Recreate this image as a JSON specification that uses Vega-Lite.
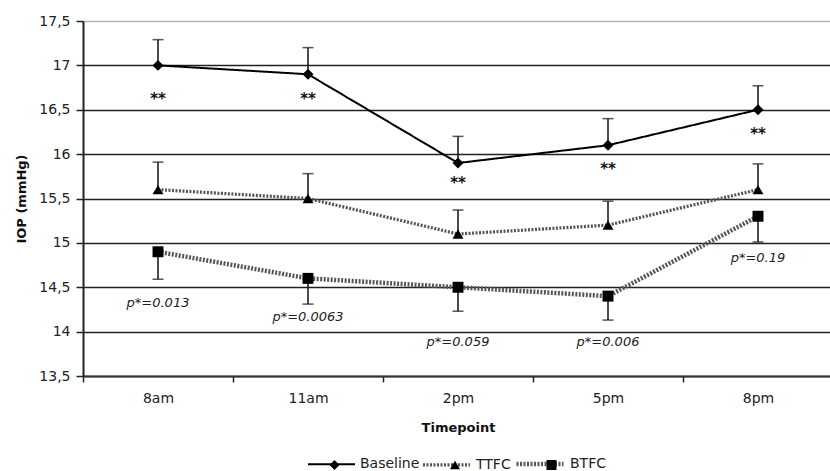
{
  "$schema": "https://vega.github.io/schema/vega-lite/v6.json",
  "width": 750,
  "height": 355,
  "autosize": {"type": "none"},
  "padding": {"left": 83, "top": 21, "right": 0, "bottom": 95},
  "background": "white",
  "config": {
    "font": "DejaVu Sans",
    "view": {"stroke": null},
    "axis": {"labelFont": "DejaVu Sans", "titleFont": "DejaVu Sans", "labelColor": "#222", "titleColor": "#111"},
    "legend": {"padding": 0, "labelFont": "DejaVu Sans"}
  },
  "datasets": {
    "series": [
      {"series": "Baseline", "time": "8am", "iop": 17.0, "bar": 17.29},
      {"series": "Baseline", "time": "11am", "iop": 16.9, "bar": 17.2},
      {"series": "Baseline", "time": "2pm", "iop": 15.9, "bar": 16.2},
      {"series": "Baseline", "time": "5pm", "iop": 16.1, "bar": 16.4},
      {"series": "Baseline", "time": "8pm", "iop": 16.5, "bar": 16.77},
      {"series": "TTFC", "time": "8am", "iop": 15.6, "bar": 15.91},
      {"series": "TTFC", "time": "11am", "iop": 15.5, "bar": 15.78},
      {"series": "TTFC", "time": "2pm", "iop": 15.1, "bar": 15.37},
      {"series": "TTFC", "time": "5pm", "iop": 15.2, "bar": 15.47},
      {"series": "TTFC", "time": "8pm", "iop": 15.6, "bar": 15.89},
      {"series": "BTFC", "time": "8am", "iop": 14.9, "bar": 14.59},
      {"series": "BTFC", "time": "11am", "iop": 14.6, "bar": 14.31},
      {"series": "BTFC", "time": "2pm", "iop": 14.5, "bar": 14.23},
      {"series": "BTFC", "time": "5pm", "iop": 14.4, "bar": 14.13},
      {"series": "BTFC", "time": "8pm", "iop": 15.3, "bar": 15.01}
    ],
    "stars": [
      {"time": "8am", "y": 16.67, "label": "**"},
      {"time": "11am", "y": 16.67, "label": "**"},
      {"time": "2pm", "y": 15.72, "label": "**"},
      {"time": "5pm", "y": 15.88, "label": "**"},
      {"time": "8pm", "y": 16.27, "label": "**"}
    ],
    "pvals": [
      {"time": "8am", "y": 14.32, "label": "p*=0.013"},
      {"time": "11am", "y": 14.165, "label": "p*=0.0063"},
      {"time": "2pm", "y": 13.88, "label": "p*=0.059"},
      {"time": "5pm", "y": 13.88, "label": "p*=0.006"},
      {"time": "8pm", "y": 14.83, "label": "p*=0.19"}
    ]
  },
  "encoding": {
    "x": {
      "field": "time", "type": "nominal",
      "sort": ["8am", "11am", "2pm", "5pm", "8pm"],
      "scale": {"type": "band", "paddingInner": 0, "paddingOuter": 0},
      "axis": {
        "title": "Timepoint", "titleFontWeight": "bold", "titleFontSize": 13, "titlePadding": 16,
        "labelAngle": 0, "labelFontSize": 14, "labelPadding": 9,
        "tickBand": "extent", "tickSize": 6, "tickColor": "#222", "tickWidth": 1.5,
        "domainColor": "#333", "domainWidth": 2, "grid": false
      }
    }
  },
  "layer": [
    {
      "data": {"name": "series"},
      "mark": {"type": "line", "strokeCap": "butt"},
      "encoding": {
        "y": {
          "field": "iop", "type": "quantitative",
          "scale": {"domain": [13.5, 17.5], "nice": false, "zero": false},
          "axis": {
            "title": "IOP (mmHg)", "titleFontWeight": "bold", "titleFontSize": 13, "titlePadding": 10,
            "values": [13.5, 14, 14.5, 15, 15.5, 16, 16.5, 17, 17.5],
            "labelExpr": "replace(toString(datum.value), '.', ',')",
            "labelFontSize": 14, "labelPadding": 6,
            "tickSize": 7, "tickColor": "#222", "tickWidth": 1.5,
            "domainColor": "#222", "domainWidth": 2,
            "grid": true, "gridWidth": 1.3,
            "gridColor": {"condition": {"test": "datum.value === 17.5", "value": "#b5b5b5"}, "value": "#222"}
          }
        },
        "color": {
          "field": "series", "type": "nominal",
          "scale": {"domain": ["Baseline", "TTFC", "BTFC"], "range": ["#000000", "#555555", "#565656"]},
          "legend": {"title": null, "orient": "none", "direction": "horizontal", "legendX": 224, "legendY": 417, "symbolType": "stroke", "symbolSize": 2209, "labelFontSize": 14, "labelOffset": 4, "columnPadding": -4, "labelColor": "#222"}
        },
        "strokeDash": {
          "field": "series", "type": "nominal",
          "scale": {"domain": ["Baseline", "TTFC", "BTFC"], "range": [[1, 0], [2, 1.5], [2, 1.501]]},
          "legend": {"title": null, "orient": "none", "direction": "horizontal", "legendX": 224, "legendY": 417, "symbolType": "stroke", "symbolSize": 2209, "labelFontSize": 14, "labelOffset": 4, "columnPadding": -4, "labelColor": "#222"}
        },
        "strokeWidth": {
          "field": "series", "type": "nominal",
          "scale": {"domain": ["Baseline", "TTFC", "BTFC"], "range": [2, 4.5, 4.49]},
          "legend": {"title": null, "orient": "none", "direction": "horizontal", "legendX": 224, "legendY": 417, "symbolType": "stroke", "symbolSize": 2209, "labelFontSize": 14, "labelOffset": 4, "columnPadding": -4, "labelColor": "#222"}
        }
      }
    },
    {
      "data": {"name": "series"},
      "mark": {"type": "rule", "color": "#111", "strokeWidth": 1.5},
      "encoding": {
        "y": {"field": "iop", "type": "quantitative"},
        "y2": {"field": "bar"}
      }
    },
    {
      "data": {"name": "series"},
      "mark": {"type": "tick", "color": "#111", "thickness": 1.5, "size": 11},
      "encoding": {
        "y": {"field": "bar", "type": "quantitative"}
      }
    },
    {
      "data": {"name": "series"},
      "mark": {"type": "point", "filled": true, "opacity": 1, "color": "#000", "size": 120},
      "encoding": {
        "y": {"field": "iop", "type": "quantitative"},
        "shape": {
          "field": "series", "type": "nominal",
          "sort": ["Baseline", "TTFC", "BTFC"],
          "scale": {"range": ["diamond", "triangle-up", "square"]},
          "legend": {"title": null, "orient": "none", "direction": "horizontal", "legendX": 244.5, "legendY": 437, "symbolSize": 100, "labelFontSize": 14, "labelOffset": 22.5, "columnPadding": 24.5, "labelOpacity": 0, "symbolOpacity": 1, "symbolFillColor": "#000", "symbolStrokeWidth": 0}
        }
      }
    },
    {
      "data": {"name": "stars"},
      "mark": {"type": "text", "fontSize": 15, "fontWeight": "bold", "color": "#111", "baseline": "middle", "dy": 4},
      "encoding": {
        "y": {"field": "y", "type": "quantitative"},
        "text": {"field": "label"}
      }
    },
    {
      "data": {"name": "pvals"},
      "mark": {"type": "text", "fontSize": 13, "fontStyle": "italic", "color": "#222", "baseline": "middle"},
      "encoding": {
        "y": {"field": "y", "type": "quantitative"},
        "text": {"field": "label"}
      }
    }
  ]
}
